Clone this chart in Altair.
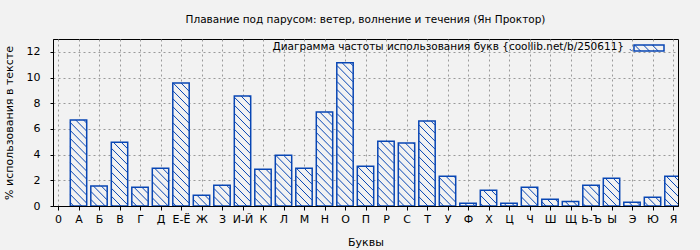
import altair as alt
import pandas as pd
import numpy as np

# ---- data ----
letters = ['0', 'А', 'Б', 'В', 'Г', 'Д', 'Е-Ё', 'Ж', 'З', 'И-Й', 'К', 'Л', 'М', 'Н',
           'О', 'П', 'Р', 'С', 'Т', 'У', 'Ф', 'Х', 'Ц', 'Ч', 'Ш', 'Щ', 'Ь-Ъ', 'Ы',
           'Э', 'Ю', 'Я']
bar_letters = letters[1:]
values = [6.70, 1.55, 4.97, 1.46, 2.94, 9.58, 0.83, 1.61, 8.57, 2.86, 3.96, 2.94,
          7.32, 11.15, 3.10, 5.05, 4.90, 6.61, 2.32, 0.21, 1.22, 0.21, 1.46, 0.52,
          0.36, 1.61, 2.16, 0.29, 0.68, 2.32]
y_ticks = [0, 2, 4, 6, 8, 10, 12]

title_text = "Плавание под парусом: ветер, волнение и течения (Ян Проктор)"
legend_text = "Диаграмма частоты использования букв {coollib.net/b/250611}"
x_title = "Буквы"
y_title = "% использования в тексте"

# ---- layout / style ----
W, H = 625, 167
XMAX, YMAX = 30, 13
BLUE = "#0846b4"
BG = "#f2f2f2"
FONT = "DejaVu Sans"
BAR_PX = 16.4
HATCH_STEP = 8.0

sx = W / XMAX
sy = H / YMAX

df = pd.DataFrame({"pos": np.arange(1, len(values) + 1), "letter": bar_letters, "value": values})


def hatch(x0p, x1p, y0p, y1p, step):
    segs = []
    cmin, cmax = x0p + y0p, x1p + y1p
    for k in range(int(np.ceil(cmin / step)), int(np.floor(cmax / step)) + 1):
        c = k * step
        xs = max(x0p, c - y1p)
        xe = min(x1p, c - y0p)
        if xe - xs > 0.3:
            segs.append((xs, c - xs, xe, c - xe))
    return segs


rows = []
for p, v in zip(df["pos"], df["value"]):
    cx = p * sx
    for xs, ys, xe, ye in hatch(cx - BAR_PX / 2, cx + BAR_PX / 2, 0, v * sy, HATCH_STEP):
        rows.append({"x": xs / sx, "y": ys / sy, "x2": xe / sx, "y2": ye / sy})
hatch_df = pd.DataFrame(rows)

# legend swatch hatching (pixel box -> data units through the same scales)
SW_X0, SW_X1, SW_Y0, SW_Y1 = 581, 611, 6, 12
sw_rows = [{"x": xs / sx, "y": ys / sy, "x2": xe / sx, "y2": ye / sy}
           for xs, ys, xe, ye in hatch(SW_X0, SW_X1, H - SW_Y1, H - SW_Y0, 9.0)]
sw_df = pd.DataFrame(sw_rows)

label_expr = "[" + ",".join("'" + s + "'" for s in letters) + "][datum.value]"

xscale = alt.Scale(domain=[0, XMAX], nice=False, zero=False)
yscale = alt.Scale(domain=[0, YMAX], nice=False)
xaxis = alt.Axis(values=list(range(0, XMAX + 1)), labelExpr=label_expr,
                 title=x_title, titlePadding=12, labelPadding=3,
                 labelFlush=False, labelOverlap=False)
yaxis = alt.Axis(values=y_ticks, title=y_title, titlePadding=12,
                 labelPadding=10, tickSize=3, labelOverlap=False)

base = alt.Chart(df)

bars_fill = base.mark_bar(size=BAR_PX, fill=BG, stroke=None, clip=True).encode(
    x=alt.X("pos:Q", scale=xscale, axis=xaxis),
    y=alt.Y("value:Q", scale=yscale, axis=yaxis),
)

hatch_layer = alt.Chart(hatch_df).mark_rule(color=BLUE, strokeWidth=1, clip=True).encode(
    x=alt.X("x:Q", scale=xscale, axis=xaxis), x2="x2:Q",
    y=alt.Y("y:Q", scale=yscale, axis=yaxis), y2="y2:Q",
)

bars_outline = base.mark_bar(size=BAR_PX, fill=None, fillOpacity=0, stroke=BLUE,
                             strokeWidth=1.5, clip=True).encode(
    x=alt.X("pos:Q", scale=xscale, axis=xaxis),
    y=alt.Y("value:Q", scale=yscale, axis=yaxis)
)

sw_hatch = alt.Chart(sw_df).mark_rule(color=BLUE, strokeWidth=1).encode(
    x=alt.X("x:Q", scale=xscale, axis=xaxis), x2="x2:Q",
    y=alt.Y("y:Q", scale=yscale, axis=yaxis), y2="y2:Q")

# legend text and swatch frame (pixel positions)
leg_df = pd.DataFrame({"t": [legend_text]})
leg_text = alt.Chart(leg_df).mark_text(align="right", baseline="middle", font=FONT,
                                       fontSize=10.5, color="black").encode(
    x=alt.value(571), y=alt.value(8), text="t:N")
sw_box = alt.Chart(pd.DataFrame({"a": [0]})).mark_rect(fill=None, stroke=BLUE, strokeWidth=1.5).encode(
    x=alt.value(SW_X0), x2=alt.value(SW_X1), y=alt.value(SW_Y0), y2=alt.value(SW_Y1))

chart = alt.layer(bars_fill, hatch_layer, bars_outline, sw_hatch, leg_text, sw_box).properties(
    width=W, height=H,
    title=alt.TitleParams(title_text, font=FONT, fontSize=10.5, fontWeight="normal",
                          color="black", anchor="middle", offset=14),
    autosize=alt.AutoSizeParams(type="none"),
    padding={"left": 53, "top": 39, "right": 22, "bottom": 44},
    background=BG,
).configure_view(
    stroke="black", strokeWidth=1, fill=BG
).configure_axis(
    domainColor="black", domainWidth=1, tickColor="black", tickSize=4,
    labelFont=FONT, labelFontSize=11, labelColor="black",
    titleFont=FONT, titleFontSize=11, titleFontWeight="normal", titleColor="black",
    grid=True, gridColor="#9a9a9a", gridDash=[2, 3], gridWidth=1,
)

chart.save("out.html", embed_options={"renderer": "svg", "actions": False})
